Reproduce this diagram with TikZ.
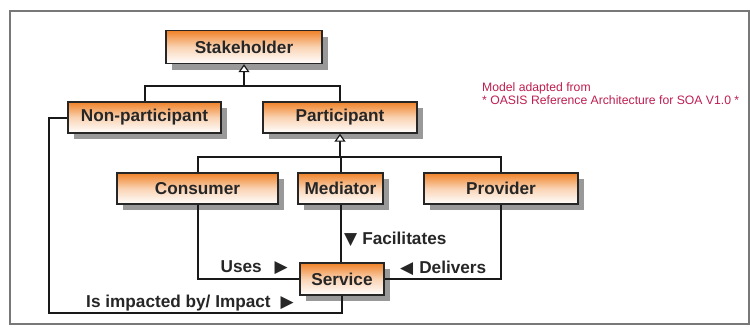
\documentclass[tikz,border=0pt]{standalone}
\usepackage{fontspec}
\setmainfont{Liberation Sans}
\newfontfamily\symfont{DejaVu Sans}
\usetikzlibrary{arrows.meta,shadows}
\definecolor{boxorange}{RGB}{240,130,40}
\definecolor{notered}{RGB}{190,30,80}
\definecolor{framegray}{RGB}{120,120,120}
\newcommand\tri[1]{{\symfont\fontsize{17}{17}\selectfont #1}}
\tikzset{
  cls/.style={draw=black!85, line width=1.4pt, top color=boxorange, bottom color=white,
    middle color=boxorange!35, inner sep=0pt, font=\bfseries\fontsize{17.2}{19}\selectfont,
    text=black!85, drop shadow={shadow xshift=6pt, shadow yshift=-6pt, fill=black!50, opacity=0.8}},
  link/.style={draw=black!90, line width=2pt},
  gen/.style={link, -{Triangle[open, width=11pt, length=8pt, line width=1.2pt, fill=white]}},
  lbl/.style={font=\bfseries\fontsize{17.2}{19}\selectfont, text=black!85, inner sep=0pt},
  note/.style={font=\fontsize{12.2}{13}\selectfont, text=notered, inner sep=0pt, anchor=west},
}
\begin{document}
\begin{tikzpicture}[x=1pt, y=-1pt]
\useasboundingbox (0,0) rectangle (750,327);
\draw[framegray, line width=1.8pt] (10,11) rectangle (749,324);

\node[cls, minimum width=156pt, minimum height=33pt] (sh) at (244,47) {Stakeholder};
\node[cls, minimum width=153pt, minimum height=31pt] (np) at (144.5,117.5) {Non-participant};
\node[cls, minimum width=154pt, minimum height=31pt] (pa) at (340,117.5) {Participant};
\node[cls, minimum width=161pt, minimum height=31pt] (co) at (197.5,188.5) {Consumer};
\node[cls, minimum width=85pt, minimum height=31pt] (me) at (340.5,188.5) {Mediator};
\node[cls, minimum width=154pt, minimum height=31pt] (pr) at (501,188.5) {Provider};
\node[cls, minimum width=84pt, minimum height=32pt] (se) at (342,279) {Service};

\coordinate (j1) at (244,86);
\coordinate (j2) at (340,157);
\coordinate (k) at (49,313);

\draw[gen] (j1) -- (sh.south);
\draw[link] (np.north) |- (j1) -| (pa.north);
\draw[gen] (j2) -- (pa.south);
\draw[link] (co.north) |- (j2) -| (pr.north);
\draw[link] (me.north) -- (me.north |- j2);

\draw[link] (co.south) |- (se.west);
\draw[link] (pr.south) |- (se.east);
\draw[link] (me.south) -- (me.south |- se.north);
\draw[link] (np.west) -| (k) -| (se.south);

\node[lbl, anchor=west] (fac) at (344,239) {\tri{▼}\hspace{5pt}Facilitates};
\node[lbl, anchor=east] (uses) at (288,268) {Uses\hspace{13pt}\tri{▶}};
\node[lbl, anchor=west] (del) at (400,268) {\tri{◀}\hspace{6pt}Delivers};
\node[lbl, anchor=east] (imp) at (294,303) {Is impacted by/ Impact\hspace{10pt}\tri{▶}};

\node[note] (n1) at (482,88) {Model adapted from};
\node[note] (n2) at (482,100.5) {* OASIS Reference Architecture for SOA V1.0 *};
\end{tikzpicture}
\end{document}
